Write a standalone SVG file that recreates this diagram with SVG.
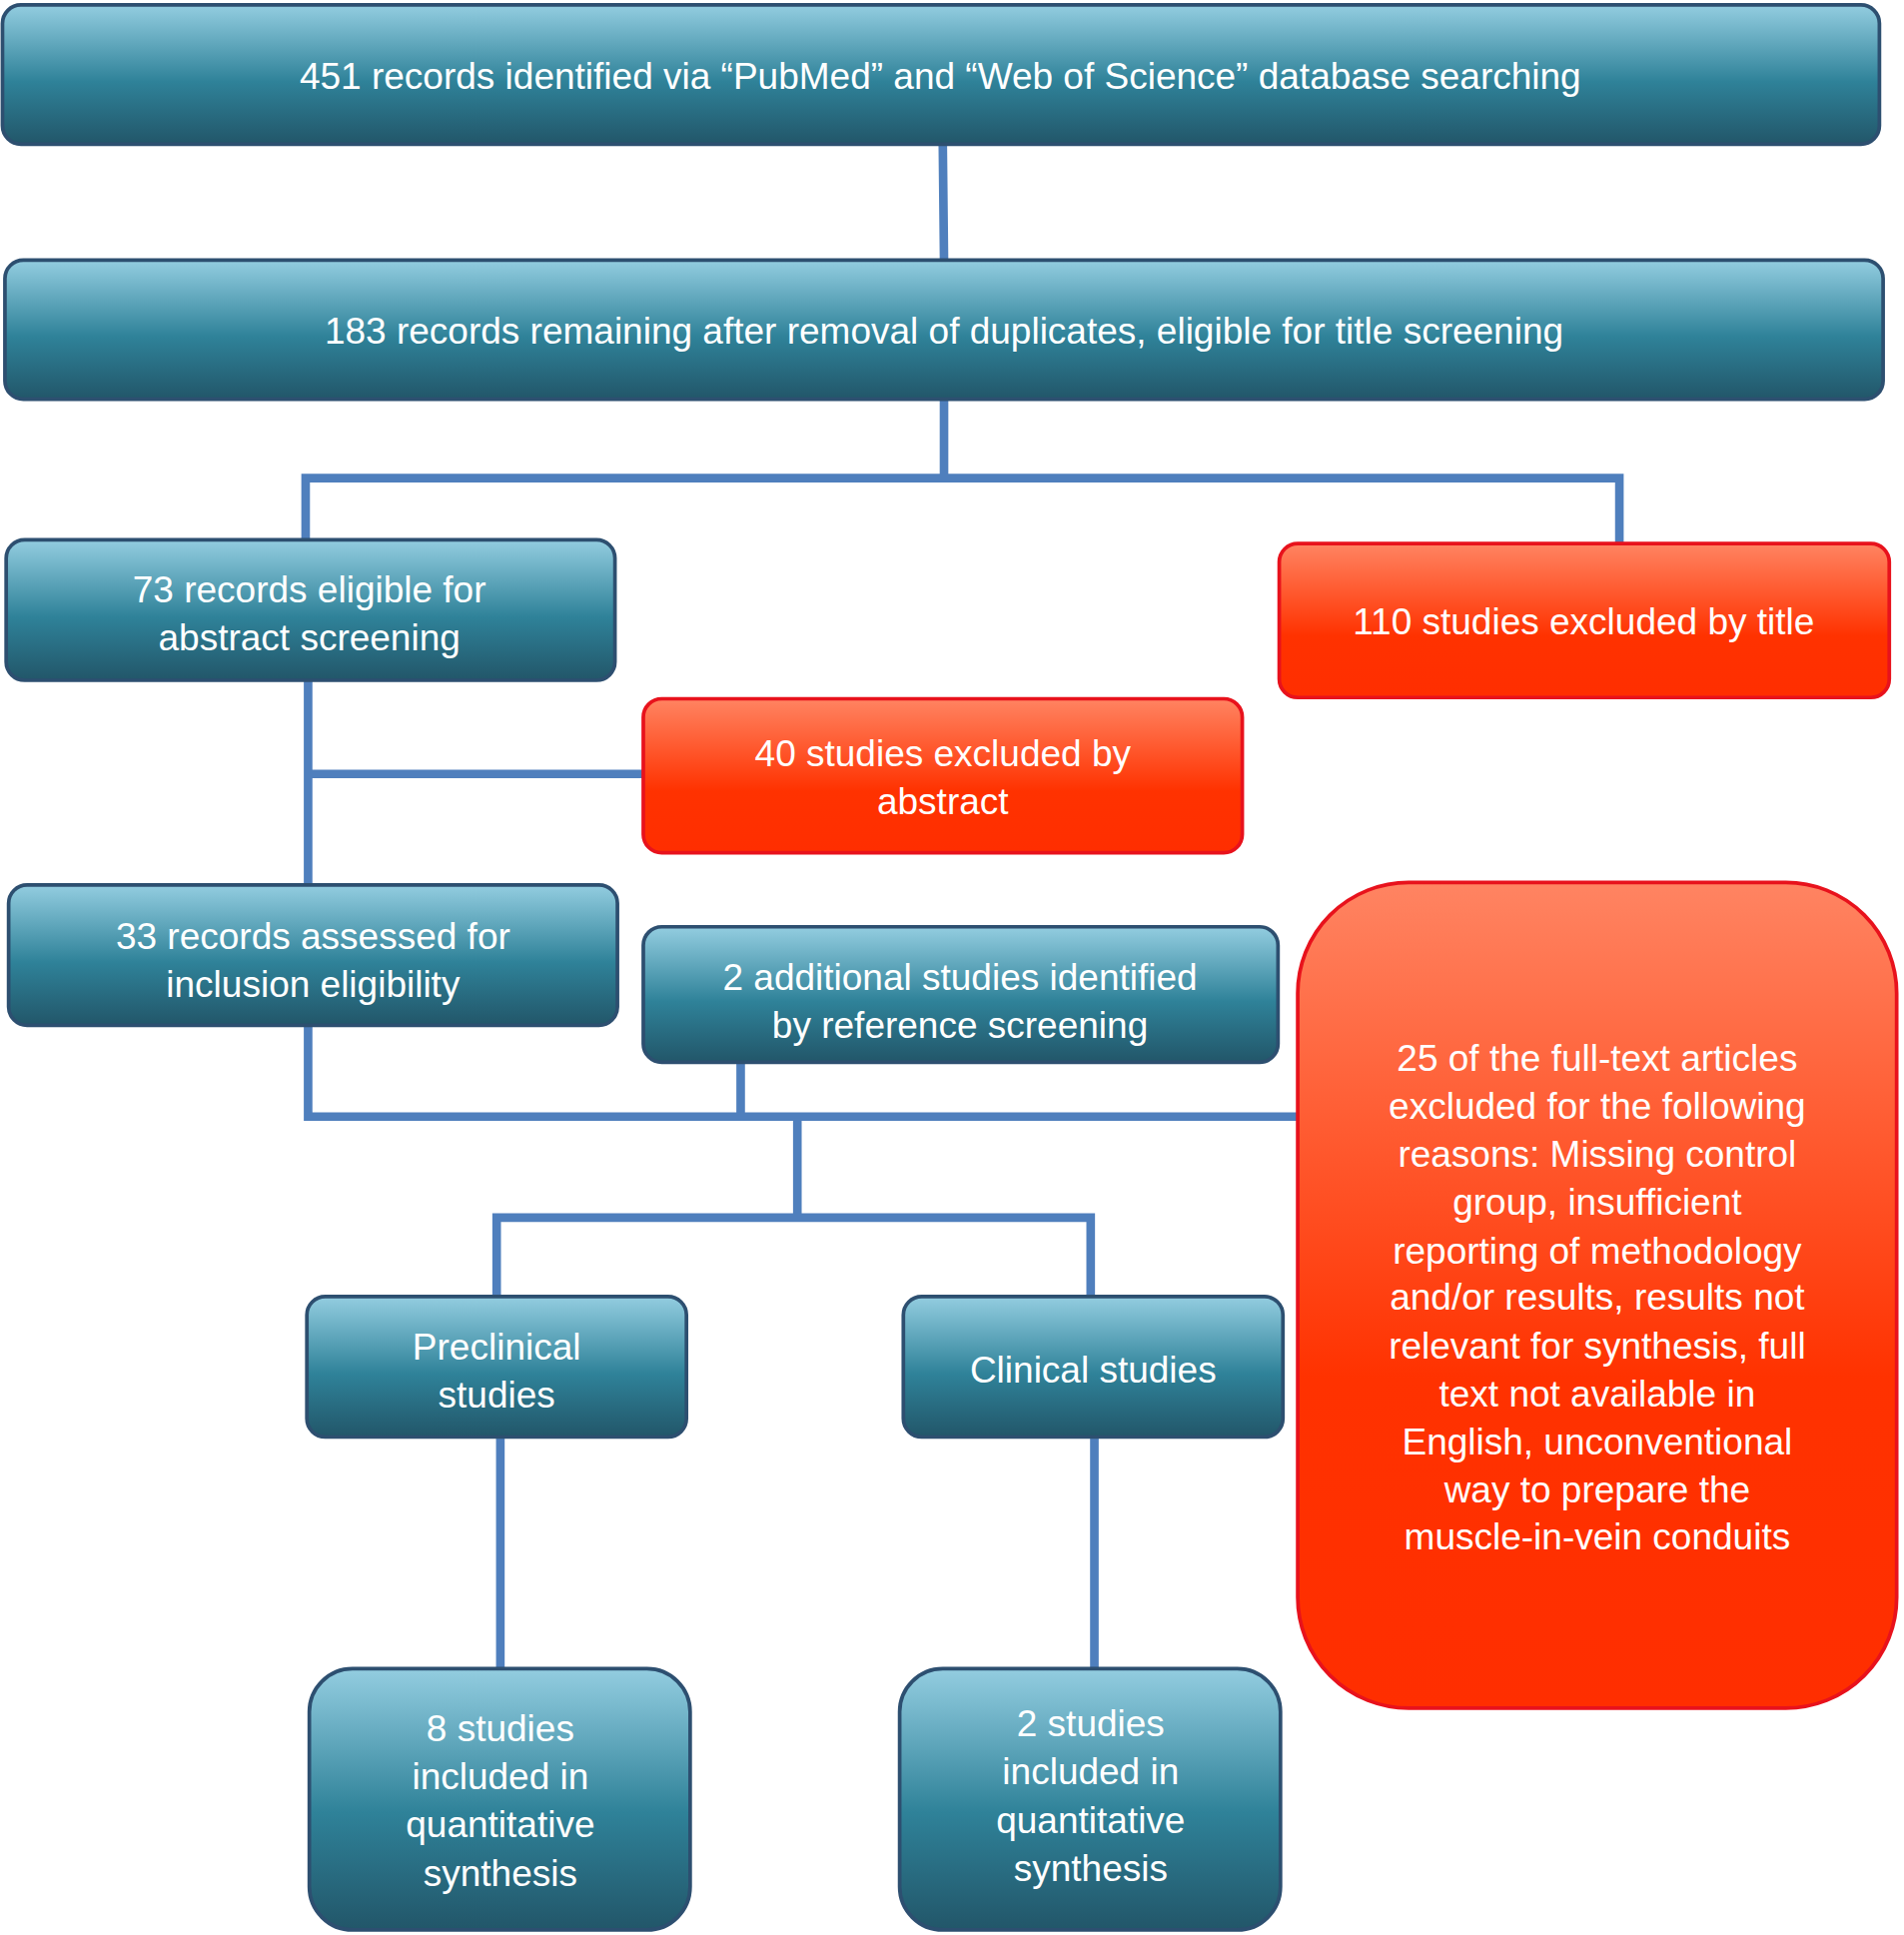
<svg xmlns="http://www.w3.org/2000/svg" width="1906" height="1937" viewBox="0 0 1906 1937">
<defs>
<linearGradient id="tg" x1="0" y1="0" x2="0" y2="1"><stop offset="0" stop-color="#93cde0"/><stop offset="0.55" stop-color="#2f8299"/><stop offset="1" stop-color="#225669"/></linearGradient>
<linearGradient id="rg" x1="0" y1="0" x2="0" y2="1"><stop offset="0" stop-color="#ff8462"/><stop offset="0.6" stop-color="#ff3200"/><stop offset="1" stop-color="#ff2e00"/></linearGradient>
<style>
.t{fill:url(#tg);stroke:#2d4f70;stroke-width:3}
.r{fill:url(#rg);stroke:#e8121c;stroke-width:3}
text{font-family:"Liberation Sans",Arial,sans-serif;font-size:30px;fill:#fff;text-anchor:middle}
.c{fill:none;stroke:#4f7fbd;stroke-width:7}
</style>
</defs>
<g transform="scale(1.2337)">
<g id="connectors" class="c">
<path d="M765 117L766 211M766 324V388M248 441V388H1314V441M250 552V718M250 628H522M250 832V906H1053M601 862V906M647 906V988M403 1052V988H885V1052M406 1166V1354M888 1166V1354"/>
</g>
<g id="n1"><rect class="t" x="2" y="4" width="1523" height="113" rx="15"/><text x="763" y="72">451 records identified via “PubMed” and “Web of Science” database searching</text></g>
<g id="n2"><rect class="t" x="4" y="211" width="1524" height="113" rx="15"/><text x="766" y="279">183 records remaining after removal of duplicates, eligible for title screening</text></g>
<g id="n3"><rect class="t" x="5" y="438" width="494" height="114" rx="15"/><text x="251" y="489">73 records eligible for</text><text x="251" y="528">abstract screening</text></g>
<g id="n4"><rect class="r" x="1038" y="441" width="495" height="125" rx="15"/><text x="1285" y="515">110 studies excluded by title</text></g>
<g id="n5"><rect class="r" x="522" y="567" width="486" height="125" rx="15"/><text x="765" y="622">40 studies excluded by</text><text x="765" y="661">abstract</text></g>
<g id="n6"><rect class="t" x="7" y="718" width="494" height="114" rx="15"/><text x="254" y="770">33 records assessed for</text><text x="254" y="809">inclusion eligibility</text></g>
<g id="n7"><rect class="t" x="522" y="752" width="515" height="110" rx="15"/><text x="779" y="803">2 additional studies identified</text><text x="779" y="842">by reference screening</text></g>
<g id="n8"><rect class="r" x="1053" y="716" width="486" height="670" rx="90"/>
<text x="1296" y="869">25 of the full-text articles</text><text x="1296" y="908">excluded for the following</text><text x="1296" y="947">reasons: Missing control</text><text x="1296" y="986">group, insufficient</text><text x="1296" y="1025">reporting of methodology</text><text x="1296" y="1063">and/or results, results not</text><text x="1296" y="1102">relevant for synthesis, full</text><text x="1296" y="1141">text not available in</text><text x="1296" y="1180">English, unconventional</text><text x="1296" y="1219">way to prepare the</text><text x="1296" y="1257">muscle-in-vein conduits</text></g>
<g id="n9"><rect class="t" x="249" y="1052" width="308" height="114" rx="15"/><text x="403" y="1103">Preclinical</text><text x="403" y="1142">studies</text></g>
<g id="n10"><rect class="t" x="733" y="1052" width="308" height="114" rx="15"/><text x="887" y="1122">Clinical studies</text></g>
<g id="n11"><rect class="t" x="251" y="1354" width="309" height="212" rx="35"/><text x="406" y="1413">8 studies</text><text x="406" y="1452">included in</text><text x="406" y="1491">quantitative</text><text x="406" y="1530">synthesis</text></g>
<g id="n12"><rect class="t" x="730" y="1354" width="309" height="212" rx="35"/><text x="885" y="1409">2 studies</text><text x="885" y="1448">included in</text><text x="885" y="1487">quantitative</text><text x="885" y="1526">synthesis</text></g>
</g>
</svg>
